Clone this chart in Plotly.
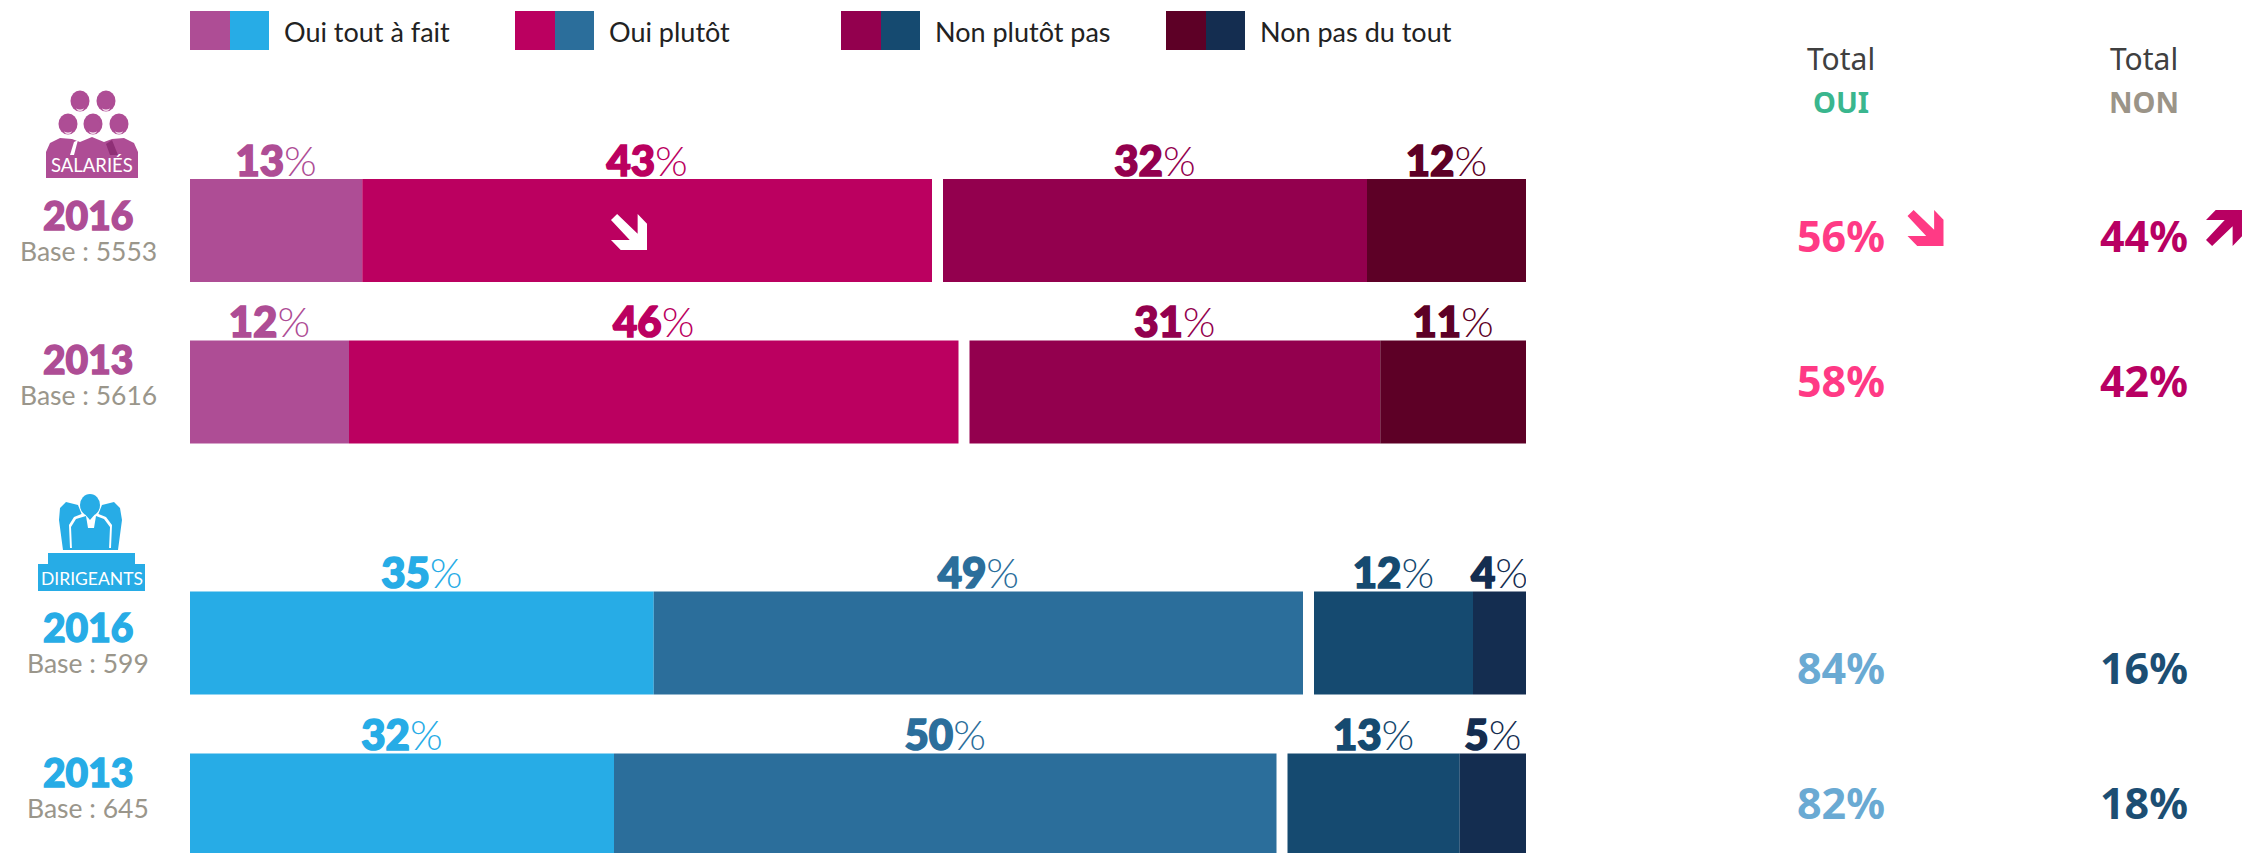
import plotly.graph_objects as go

# ---------- data ----------
series_names = ["Oui tout à fait", "Oui plutôt", "Non plutôt pas", "Non pas du tout"]
row_years = ["2016", "2013", "2016", "2013"]
row_bases = ["Base : 5553", "Base : 5616", "Base : 599", "Base : 645"]
oui_tout_a_fait = [13, 12, 35, 32]
oui_plutot = [43, 46, 49, 50]
non_plutot_pas = [32, 31, 12, 13]
non_pas_du_tout = [12, 11, 4, 5]
total_oui = [56, 58, 84, 82]
total_non = [44, 42, 16, 18]

# ---------- styles / layout constants ----------
W, H = 2245, 853
BAR_L, BAR_R = 190, 1526
GAP = 0.83
ROW_Y = [230.5, 392, 643, 805]
BAR_H = 103
SAL = ["#ae4d95", "#bb0060", "#93004e", "#5d0026"]
DIR = ["#27ace6", "#2b6e9b", "#154a70", "#142d50"]
ROW_COL = [SAL, SAL, DIR, DIR]
OUI_COL = ["#ff3a85", "#ff3a85", "#6aaad3", "#6aaad3"]
NON_COL = ["#b80062", "#b80062", "#1c4e73", "#1c4e73"]
GREY = "#9a968b"
F = "Lato"
F2 = "Noto Sans"

values = [oui_tout_a_fait, oui_plutot, non_plutot_pas, non_pas_du_tout]


def bases_for(series_index):
    out = []
    for r in range(len(ROW_Y)):
        b = sum(values[i][r] for i in range(series_index))
        if series_index >= 2:
            b += GAP
        out.append(b)
    return out


def heavy(t, col, w=1.6):
    return f'<span style="font-weight:900;stroke:{col};stroke-width:{w}px">{t}</span>'


fig = go.Figure()

# value labels sit on the base axes, under the bars (which use overlaying axes)
for s in range(4):
    b = bases_for(s)
    fig.add_trace(go.Scatter(
        x=[b[r] + values[s][r] / 2 for r in range(4)],
        y=[ROW_Y[r] - BAR_H / 2 - 14 for r in range(4)],
        mode="text",
        text=[heavy(values[s][r], ROW_COL[r][s]) + '<span style="font-weight:300">%</span>' for r in range(4)],
        textposition="middle center",
        textfont=dict(family=F, size=42, color=[ROW_COL[r][s] for r in range(4)]),
        hoverinfo="skip", showlegend=False, xaxis="x", yaxis="y",
    ))

for s in range(4):
    fig.add_trace(go.Bar(
        name=series_names[s], orientation="h",
        x=values[s], y=ROW_Y, base=bases_for(s), width=BAR_H,
        marker=dict(color=[ROW_COL[r][s] for r in range(4)], line=dict(width=0)),
        showlegend=False, xaxis="x2", yaxis="y2",
    ))

ann, shp = [], []


def px(x):
    return x / W


def py(y):
    return 1 - y / H


def text(x, y, t, size, color, family=F, anchor="center"):
    ann.append(dict(x=px(x), y=py(y), xref="paper", yref="paper", text=t, showarrow=False,
                    xanchor=anchor, yanchor="middle", font=dict(family=family, size=size, color=color), borderpad=0))


def rect(x0, y0, x1, y1, color):
    shp.append(dict(type="rect", xref="paper", yref="paper", x0=px(x0), x1=px(x1), y0=py(y0), y1=py(y1),
                    fillcolor=color, line=dict(width=0)))


def ell(cx, cy, rx, ry, color):
    shp.append(dict(type="circle", xref="paper", yref="paper", x0=px(cx - rx), x1=px(cx + rx),
                    y0=py(cy - ry), y1=py(cy + ry), fillcolor=color, line=dict(width=0)))


def poly(points, color):
    d = "M " + " L ".join(f"{px(x):.5f},{py(y):.5f}" for x, y in points) + " Z"
    shp.append(dict(type="path", xref="paper", yref="paper", path=d, fillcolor=color, line=dict(width=0)))


ARROW_DOWN = [(0, .17), (.17, 0), (.74, .55), (.74, 0), (1, .27), (1, 1), (.27, 1), (0, .72), (.52, .72)]


def arrow(x, y, size, color, up=False):
    poly([(x + a * size, y + ((1 - b) if up else b) * size) for a, b in ARROW_DOWN], color)


# legend swatches
LEG_X = [190, 515, 841, 1166]
for i, x in enumerate(LEG_X):
    rect(x, 11, x + 40, 50, SAL[i])
    rect(x + 40, 11, x + 79, 50, DIR[i])
    text(x + 93, 32, series_names[i], 27, "#222222", anchor="left")

# row labels
for r in range(4):
    col = ROW_COL[r][0]
    yr_y = [215, 359, 627, 772][r]
    text(88, yr_y, heavy(row_years[r], col, 1.4), 39, col)
    text(88, yr_y + 36, row_bases[r], 26.5, GREY)
    text(1841, [235, 380, 667, 802][r], f"<b>{total_oui[r]}%</b>", 43, OUI_COL[r], family=F2)
    text(2144, [235, 380, 667, 802][r], f"<b>{total_non[r]}%</b>", 43, NON_COL[r], family=F2)

# totals header
text(1841, 58, "Total", 30, "#404040", family=F2)
text(2144, 58, "Total", 30, "#404040", family=F2)
text(1841, 101, "<b>OUI</b>", 29, "#3ab68e", family=F2)
text(2144, 101, "<b>NON</b>", 29, "#9b9488", family=F2)

# arrows
arrow(1907.5, 210, 36, "#ff3a85")
arrow(2206, 210, 36, "#b80062", up=True)
arrow(611, 214, 36, "#ffffff")

# salariés icon
for cx, cy in [(80, 101), (106, 101), (68, 124), (93, 124), (119, 124)]:
    ell(cx, cy, 9.5, 10.5, SAL[0])
    ell(cx, cy + 6, 4, 4, "#f4dcec")
    ell(cx, cy + 1.5, 7.5, 7, SAL[0])
poly([(46, 178), (46, 152), (50, 143), (60, 138), (72, 139), (80, 142), (92, 137), (104, 142), (112, 139),
      (124, 138), (134, 143), (138, 152), (138, 178)], SAL[0])
poly([(70, 155), (74, 142), (78, 140), (74, 155)], "#ffffff")
poly([(110, 155), (106, 144), (112, 140), (118, 155)], "#8f2f76")
text(92, 165, "SALARIÉS", 18.5, "#ffffff")

# dirigeants icon
poly([(63, 550), (59, 520), (60, 508), (66, 502), (78, 505), (82, 515), (98, 515), (102, 505), (114, 502),
      (120, 508), (122, 520), (118, 550)], DIR[0])
poly([(70, 548), (69, 525), (74, 517), (84, 513), (90, 520), (96, 513), (106, 517), (112, 525), (111, 548)], "#ffffff")
poly([(72, 550), (71, 527), (76, 519), (86, 516), (88, 528), (94, 528), (96, 516), (104, 519), (110, 527), (109, 550)], DIR[0])
ell(90, 505, 10, 11, DIR[0])
ell(90, 511, 4, 3, "#ffffff")
ell(90, 507, 8, 8, DIR[0])
rect(48, 553, 135, 566, DIR[0])
rect(38, 564, 145, 591, DIR[0])
text(92, 578, "DIRIGEANTS", 17.5, "#ffffff")

x_range = [0, 100 + GAP]
y_range = [H, 0]
domain = [BAR_L / W, BAR_R / W]
fig.update_layout(
    width=W, height=H, margin=dict(l=0, r=0, t=0, b=0, pad=0), autosize=False,
    paper_bgcolor="#ffffff", plot_bgcolor="rgba(0,0,0,0)",
    barmode="overlay", showlegend=False, annotations=ann, shapes=shp,
    xaxis=dict(domain=domain, range=x_range, visible=False, fixedrange=True),
    yaxis=dict(domain=[0, 1], range=y_range, visible=False, fixedrange=True),
    xaxis2=dict(domain=domain, range=x_range, visible=False, overlaying="x", fixedrange=True, anchor="y2"),
    yaxis2=dict(domain=[0, 1], range=y_range, visible=False, overlaying="y", fixedrange=True, anchor="x2"),
)
fig.write_html("out.html", config=dict(displayModeBar=False),
               post_script="document.body.style.margin='0';document.body.style.overflow='hidden';")
